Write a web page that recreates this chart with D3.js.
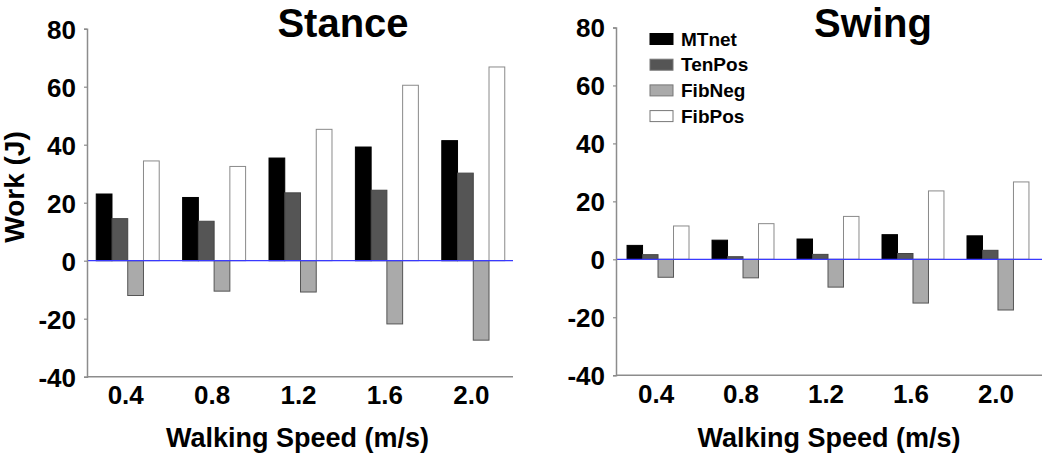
<!DOCTYPE html>
<html>
<head>
<meta charset="utf-8">
<script src="https://cdn.jsdelivr.net/npm/d3@7"></script>
<style>
html,body{margin:0;padding:0;background:#fff;}
svg{display:block;font-family:"Liberation Sans",Arial,Helvetica,sans-serif;font-weight:bold;}
</style>
</head>
<body>
<svg id="chart" width="1050" height="457"></svg>
<script>
const speeds = ["0.4","0.8","1.2","1.6","2.0"];
const seriesNames = ["MTnet","TenPos","FibNeg","FibPos"];
const yTicks = [-40,-20,0,20,40,60,80];

const stanceMTnet  = [23.0, 21.8, 35.4, 39.2, 41.4];
const stanceTenPos = [14.5, 13.6, 23.4, 24.3, 30.2];
const stanceFibNeg = [-12.0, -10.5, -10.8, -21.8, -27.4];
const stanceFibPos = [34.4, 32.5, 45.3, 60.5, 66.8];

const swingMTnet  = [4.8, 6.6, 7.0, 8.5, 8.1];
const swingTenPos = [1.6, 0.9, 1.7, 2.0, 3.1];
const swingFibNeg = [-6.2, -6.4, -9.6, -15.1, -17.5];
const swingFibPos = [11.5, 12.3, 14.8, 23.6, 26.7];

const fills   = {MTnet:"#000000", TenPos:"#555555", FibNeg:"#aaaaaa", FibPos:"#ffffff"};
const strokes = {MTnet:"#000000", TenPos:"#444444", FibNeg:"#555555", FibPos:"#8a8a8a"};

const svg = d3.select("#chart");
const FONT = "Liberation Sans, Arial, sans-serif";

const panels = [
  {title:"Stance", left:87, right:513, top:28.7, bottom:376.7, titleX:343, labelX:297.5,
   data:[stanceMTnet, stanceTenPos, stanceFibNeg, stanceFibPos], legend:false},
  {title:"Swing", left:616, right:1042, top:27.5, bottom:375.2, titleX:873, labelX:829,
   data:[swingMTnet, swingTenPos, swingFibNeg, swingFibPos], legend:true}
];

panels.forEach((p, pi) => {
  const g = svg.append("g");
  const y = d3.scaleLinear().domain([-40, 80]).range([p.bottom, p.top]);
  const x0 = d3.scaleBand().domain(speeds)
    .range([p.left, pi === 0 ? p.right + 1 : p.right - 2])
    .paddingInner(0.271).paddingOuter(pi === 0 ? 0.107 : 0.13);
  const x1 = d3.scaleBand().domain(seriesNames).range([0, x0.bandwidth()]);

  // bars
  speeds.forEach((s, i) => {
    seriesNames.forEach((name, k) => {
      const v = p.data[k][i];
      g.append("rect")
        .attr("x", x0(s) + x1(name))
        .attr("y", y(Math.max(0, v)))
        .attr("width", x1.bandwidth())
        .attr("height", Math.abs(y(v) - y(0)))
        .attr("fill", fills[name])
        .attr("stroke", strokes[name])
        .attr("stroke-width", 1);
    });
  });

  // zero line
  g.append("line")
    .attr("x1", p.left).attr("x2", p.right)
    .attr("y1", y(0)).attr("y2", y(0))
    .attr("stroke", "#3a3aff").attr("stroke-width", 1.2);

  // y axis
  const ya = g.append("g").attr("transform", `translate(${p.left},0)`)
    .call(d3.axisLeft(y).tickValues(yTicks).tickSize(3).tickPadding(8).tickFormat(d => String(d)));
  ya.attr("font-size", null).attr("font-family", null);
  ya.select(".domain").attr("stroke", "#8c8c8c").attr("stroke-width", 1.5);
  ya.selectAll(".tick line").attr("stroke", "#8c8c8c").attr("stroke-width", 1.2);
  ya.selectAll(".tick text").attr("fill", "#000").style("font-size", "26px").style("font-weight", "bold")
    .style("font-family", FONT).attr("dy", "0.36em");

  // x axis
  const xa = g.append("g").attr("transform", `translate(0,${p.bottom})`)
    .call(d3.axisBottom(x0).tickSize(0).tickPadding(9));
  xa.attr("font-size", null).attr("font-family", null);
  xa.select(".domain").attr("stroke", "#8c8c8c").attr("stroke-width", 1.5)
    .attr("d", `M${p.left},0H${p.right}`);
  xa.selectAll(".tick text").attr("fill", "#000").style("font-size", "26px").style("font-weight", "bold")
    .style("font-family", FONT).attr("dx", "-2");

  // title
  g.append("text").attr("x", p.titleX).attr("y", 37)
    .attr("text-anchor", "middle").style("font-size", "40px").text(p.title);

  // x label
  g.append("text").attr("x", p.labelX).attr("y", 447)
    .attr("text-anchor", "middle").style("font-size", "27px").text("Walking Speed (m/s)");

  if (p.legend) {
    const lg = g.append("g");
    seriesNames.forEach((name, k) => {
      const yy = 33.5 + k * 25.7;
      lg.append("rect").attr("x", 650).attr("y", yy).attr("width", 23).attr("height", 11)
        .attr("fill", fills[name]).attr("stroke", name === "MTnet" ? "#000" : "#777").attr("stroke-width", 1);
      lg.append("text").attr("x", 681).attr("y", yy + 12).style("font-size", "19px").text(name);
    });
  }
});

// y axis label
svg.append("text")
  .attr("transform", "translate(24,187) rotate(-90)")
  .attr("text-anchor", "middle").style("font-size", "28px").text("Work (J)");
</script>
</body>
</html>
